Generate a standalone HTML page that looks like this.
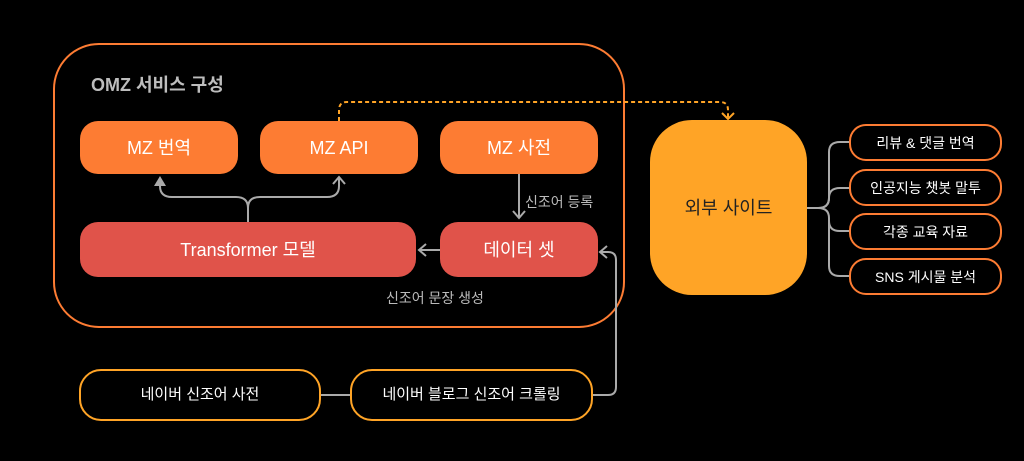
<!DOCTYPE html>
<html><head><meta charset="utf-8"><style>
html,body{margin:0;padding:0;background:#000;}
body{width:1024px;height:461px;overflow:hidden;position:relative;font-family:"Liberation Sans","Noto Sans CJK KR",sans-serif;}
.b{position:absolute;box-sizing:border-box;display:flex;align-items:center;justify-content:center;color:#fff;line-height:20px;}
.b span{display:block;line-height:20px;}
.o{background:#fd7c33;border-radius:18px;font-size:18px;}
.r{background:#e0534a;border-radius:18px;font-size:18px;}
.s{border:2px solid #fd7c33;border-radius:17px;font-size:14px;}
.n{border:2px solid #ffa426;border-radius:22px;font-size:15px;}
.t{position:absolute;color:#bbb;font-size:14px;white-space:nowrap;}
</style></head><body>
<svg width="1024" height="461" style="position:absolute;left:0;top:0">
<rect x="54" y="44" width="570" height="283" rx="45" fill="none" stroke="#fd7c33" stroke-width="2"/>
<g fill="none" stroke="#aaa" stroke-width="2">
<path d="M248 222 V208 Q248 197 236 197 H172 Q160 197 160 186 V178"/>
<path d="M248 208 Q248 197 260 197 H327 Q339 197 339 186 V178"/>
<path d="M333 184 L339 177 L345 184"/>
<path d="M519 174 V217 M513 211 L519 218 L525 211"/>
<path d="M440 250 H420 M426 244 L419 250 L426 256"/>
<path d="M592 395 H608 Q616 395 616 387 V260 Q616 252 608 252 H601 M607 246 L600 252 L607 258"/>
<path d="M320 395 H351"/>
<path d="M807 208 H818 Q829 208 829 198 V152 Q829 142 840 142 H849"/>
<path d="M818 208 Q829 208 829 198 V198 Q829 188 840 188 H849"/>
<path d="M818 208 Q829 208 829 218 V221 Q829 231 840 231 H849"/>
<path d="M829 218 V266 Q829 276 840 276 H849"/>
</g>
<path d="M160 176 L154 186 H166 Z" fill="#aaa"/>
<path d="M339 121 V110 Q339 102 347 102 H720 Q728 102 728 110 V118" fill="none" stroke="#ffa426" stroke-width="2" stroke-dasharray="4 3"/>
<path d="M722 113 L728 119 L734 113" fill="none" stroke="#ffa426" stroke-width="2"/>
</svg>
<div class="t" style="left:91px;top:71px;font-size:18px;font-weight:bold;color:#bdbdbd">OMZ 서비스 구성</div>
<div class="b o" style="left:80px;top:121px;width:158px;height:53px"><span>MZ 번역</span></div>
<div class="b o" style="left:260px;top:121px;width:158px;height:53px"><span>MZ API</span></div>
<div class="b o" style="left:440px;top:121px;width:158px;height:53px"><span>MZ 사전</span></div>
<div class="b r" style="left:80px;top:222px;width:336px;height:55px"><span>Transformer 모델</span></div>
<div class="b r" style="left:440px;top:222px;width:158px;height:55px"><span>데이터 셋</span></div>
<div class="t" style="left:525px;top:192px">신조어 등록</div>
<div class="t" style="left:386px;top:288px">신조어 문장 생성</div>
<div class="b" style="left:650px;top:120px;width:157px;height:175px;background:#ffa426;border-radius:42px;color:#222;font-size:18px"><span>외부 사이트</span></div>
<div class="b s" style="left:849px;top:124px;width:153px;height:37px"><span>리뷰 &amp; 댓글 번역</span></div>
<div class="b s" style="left:849px;top:169px;width:153px;height:37px"><span>인공지능 챗봇 말투</span></div>
<div class="b s" style="left:849px;top:213px;width:153px;height:37px"><span>각종 교육 자료</span></div>
<div class="b s" style="left:849px;top:258px;width:153px;height:37px"><span>SNS 게시물 분석</span></div>
<div class="b n" style="left:79px;top:369px;width:242px;height:52px"><span>네이버 신조어 사전</span></div>
<div class="b n" style="left:350px;top:369px;width:243px;height:52px"><span>네이버 블로그 신조어 크롤링</span></div>
</body></html>
